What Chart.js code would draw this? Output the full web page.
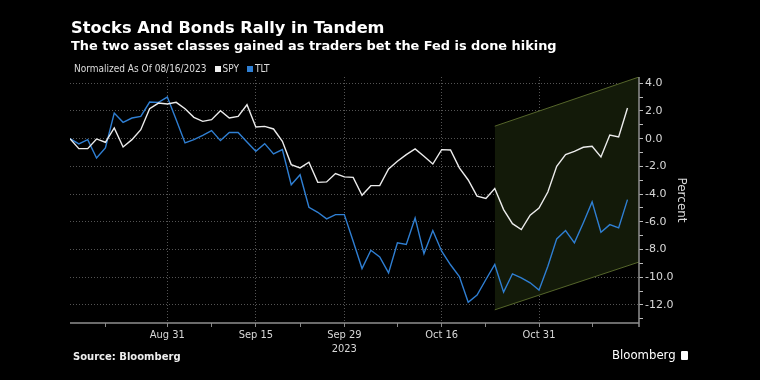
<!DOCTYPE html>
<html>
<head>
<meta charset="utf-8">
<script src="https://cdn.jsdelivr.net/npm/chart.js@4"></script>
<style>
  body { margin: 0; background: #000; }
  #wrap { position: relative; width: 760px; height: 380px; background: #000; overflow: hidden; font-family: "DejaVu Sans", sans-serif; }
  canvas { position: absolute; left: 0; top: 0; }
  .t { position: absolute; color: #fff; white-space: nowrap; }
  #title { left: 71px; top: 18px; font-size: 16.2px; font-weight: bold; }
  #subtitle { left: 71px; top: 38px; font-size: 12.9px; font-weight: bold; }
  #legend { left: 74px; top: 63px; font-size: 10px; color: #ddd; font-family: "DejaVu Sans Condensed", "DejaVu Sans", sans-serif; }
  #legend .sw { display: inline-block; width: 6px; height: 6px; margin: 0 2px 0 8px; }
  #source { left: 73px; top: 351px; font-size: 10px; font-weight: bold; color: #eee; }
  #brand { left: 612px; top: 347px; font-size: 13px; color: #fff; font-family: "DejaVu Sans Condensed", "DejaVu Sans", sans-serif; }
  #brand .ic { display: inline-block; width: 7px; height: 9px; background: #fff; border-radius: 1px; margin-left: 5px; vertical-align: -1px; }
</style>
</head>
<body>
<div id="wrap">
  <canvas id="chart" width="760" height="380"></canvas>
  <div class="t" id="title">Stocks And Bonds Rally in Tandem</div>
  <div class="t" id="subtitle">The two asset classes gained as traders bet the Fed is done hiking</div>
  <div class="t" id="legend">Normalized As Of 08/16/2023<span class="sw" style="background:#f0f0f0"></span>SPY<span class="sw" style="background:#2f7fd3"></span>TLT</div>
  <div class="t" id="source">Source: Bloomberg</div>
  <div class="t" id="brand">Bloomberg<span class="ic"></span></div>
</div>
<script>
// trading days, 2023
const dates = [
  "Aug 16", "Aug 17", "Aug 18", "Aug 21", "Aug 22", "Aug 23", "Aug 24", "Aug 25", "Aug 28", "Aug 29", "Aug 30", "Aug 31",
  "Sep 1", "Sep 5", "Sep 6", "Sep 7", "Sep 8", "Sep 11", "Sep 12", "Sep 13", "Sep 14", "Sep 15",
  "Sep 18", "Sep 19", "Sep 20", "Sep 21", "Sep 22", "Sep 25", "Sep 26", "Sep 27", "Sep 28", "Sep 29",
  "Oct 2", "Oct 3", "Oct 4", "Oct 5", "Oct 6", "Oct 9", "Oct 10", "Oct 11", "Oct 12", "Oct 13", "Oct 16",
  "Oct 17", "Oct 18", "Oct 19", "Oct 20", "Oct 23", "Oct 24", "Oct 25", "Oct 26", "Oct 27", "Oct 30", "Oct 31",
  "Nov 1", "Nov 2", "Nov 3", "Nov 6", "Nov 7", "Nov 8", "Nov 9", "Nov 10", "Nov 13", "Nov 14"
];

const spy = [
  0.0, -0.72, -0.72, -0.02, -0.26, 0.77, -0.6, -0.07, 0.65, 2.16, 2.57, 2.5,
  2.62, 2.16, 1.54, 1.25, 1.37, 2.02, 1.49, 1.61, 2.45, 0.84,
  0.89, 0.7, -0.19, -1.87, -2.11, -1.7, -3.15, -3.12, -2.52, -2.76,
  -2.79, -4.08, -3.39, -3.39, -2.19, -1.63, -1.15, -0.74, -1.27, -1.83, -0.79,
  -0.82, -2.11, -2.98, -4.15, -4.32, -3.6, -5.12, -6.13, -6.56, -5.52, -5.0,
  -3.85, -2.0, -1.15, -0.91, -0.62, -0.55, -1.32, 0.26, 0.12, 2.21
];

const tlt = [
  0.0, -0.38, -0.07, -1.39, -0.67, 1.85, 1.18, 1.49, 1.61, 2.64, 2.62, 3.0,
  1.37, -0.31, -0.07, 0.24, 0.58, -0.14, 0.45, 0.45, -0.24, -0.91,
  -0.36, -1.1, -0.79, -3.32, -2.6, -4.95, -5.31, -5.79, -5.48, -5.48,
  -7.4, -9.37, -8.05, -8.53, -9.68, -7.52, -7.64, -5.72, -8.29, -6.63, -8.12,
  -9.1, -9.95, -11.8, -11.28, -10.16, -9.08, -11.07, -9.75, -10.04, -10.4, -10.93,
  -9.2, -7.23, -6.63, -7.52, -6.08, -4.56, -6.75, -6.2, -6.44, -4.4
];

// shaded channel, from Oct 24 to the right edge
const channelStart = "Oct 24";
const channelTop = [0.9, 4.45];
const channelBottom = [-12.35, -8.9];

const xLabels = ["Aug 31", "Sep 15", "Sep 29", "Oct 16", "Oct 31"];
const xMinor = ["Aug 22", "Sep 8", "Sep 22", "Oct 9", "Oct 23", "Nov 8"];
const yearLabel = { "Sep 29": "2023" };
const yTicks = [-13, -12, -11, -10, -9, -8, -7, -6, -5, -4, -3, -2, -1, 0, 1, 2, 3, 4];
const xMax = 64.3;

const labelAt = {};
xLabels.forEach((d) => { labelAt[dates.indexOf(d)] = d; });
const minorIdx = xMinor.map((d) => dates.indexOf(d));

function toPoints(values) {
  return values.map((v, i) => ({ x: i, y: v }));
}

const c0 = dates.indexOf(channelStart);
const gridGray = "rgba(105,105,105,0.8)";
const axisFont = { family: "'DejaVu Sans Condensed', 'DejaVu Sans', sans-serif", size: 11 };

// solid axis lines (border.dash would make them dotted like the grid)
const axisLines = {
  id: "axisLines",
  afterDraw(chart) {
    const { ctx, chartArea: a } = chart;
    ctx.save();
    ctx.lineWidth = 1.5;
    ctx.strokeStyle = "#8f8f8f";
    ctx.beginPath();
    ctx.moveTo(a.left, a.bottom);
    ctx.lineTo(a.right, a.bottom);
    ctx.moveTo(a.right, a.top);
    ctx.lineTo(a.right, a.bottom + 4);
    ctx.stroke();
    ctx.restore();
  },
};

new Chart(document.getElementById("chart"), {
  type: "line",
  data: {
    datasets: [
      { label: "SPY", data: toPoints(spy), borderColor: "#ececec", borderWidth: 1.4, pointRadius: 0, tension: 0 },
      { label: "TLT", data: toPoints(tlt), borderColor: "#2f7fd3", borderWidth: 1.4, pointRadius: 0, tension: 0 },
      {
        label: "top",
        data: [{ x: c0, y: channelTop[0] }, { x: xMax, y: channelTop[1] }],
        borderColor: "#56662b", borderWidth: 1, pointRadius: 0, fill: false,
      },
      {
        label: "bottom",
        data: [{ x: c0, y: channelBottom[0] }, { x: xMax, y: channelBottom[1] }],
        borderColor: "#56662b", borderWidth: 1, pointRadius: 0,
        fill: "-1", backgroundColor: "#131a09",
      },
    ],
  },
  options: {
    responsive: false,
    animation: false,
    layout: { padding: { left: 70, top: 77, right: 70, bottom: 0 } },
    plugins: { legend: { display: false }, tooltip: { enabled: false } },
    scales: {
      x: {
        type: "linear",
        min: 0,
        max: xMax,
        afterBuildTicks: (scale) => {
          const vals = Object.keys(labelAt).map(Number).concat(minorIdx).sort((a, b) => a - b);
          scale.ticks = vals.map((v) => ({ value: v }));
        },
        afterFit: (scale) => { scale.height = 57; },
        ticks: {
          autoSkip: false,
          maxRotation: 0,
          color: "#d8d8d8",
          font: axisFont,
          padding: 2,
          callback: (v) => {
            const d = labelAt[v];
            if (!d) return "";
            return yearLabel[d] ? [d, yearLabel[d]] : d;
          },
        },
        grid: {
          color: (ctx) => (ctx.tick && labelAt[ctx.tick.value] ? gridGray : "rgba(0,0,0,0)"),
          tickColor: "#888",
          tickLength: 4,
        },
        border: { display: false, dash: [1, 2] },
      },
      y: {
        position: "right",
        min: -13.3,
        max: 4.45,
        afterBuildTicks: (scale) => {
          scale.ticks = yTicks.map((v) => ({ value: v }));
        },
        afterFit: (scale) => { scale.width = 51; },
        ticks: {
          autoSkip: false,
          color: "#d8d8d8",
          font: { family: "'DejaVu Sans', sans-serif", size: 11 },
          padding: 2,
          callback: (v) => (v % 2 === 0 ? v.toFixed(1) : ""),
        },
        grid: {
          color: (ctx) => (ctx.tick && ctx.tick.value % 2 === 0 ? gridGray : "rgba(0,0,0,0)"),
          tickColor: "#bbb",
          tickLength: 4,
        },
        border: { display: false, dash: [1, 2] },
        title: {
          display: true,
          text: "Percent",
          color: "#d8d8d8",
          font: { family: "'DejaVu Sans', sans-serif", size: 12 },
          padding: 2,
        },
      },
    },
  },
  plugins: [axisLines],
});
</script>
</body>
</html>
